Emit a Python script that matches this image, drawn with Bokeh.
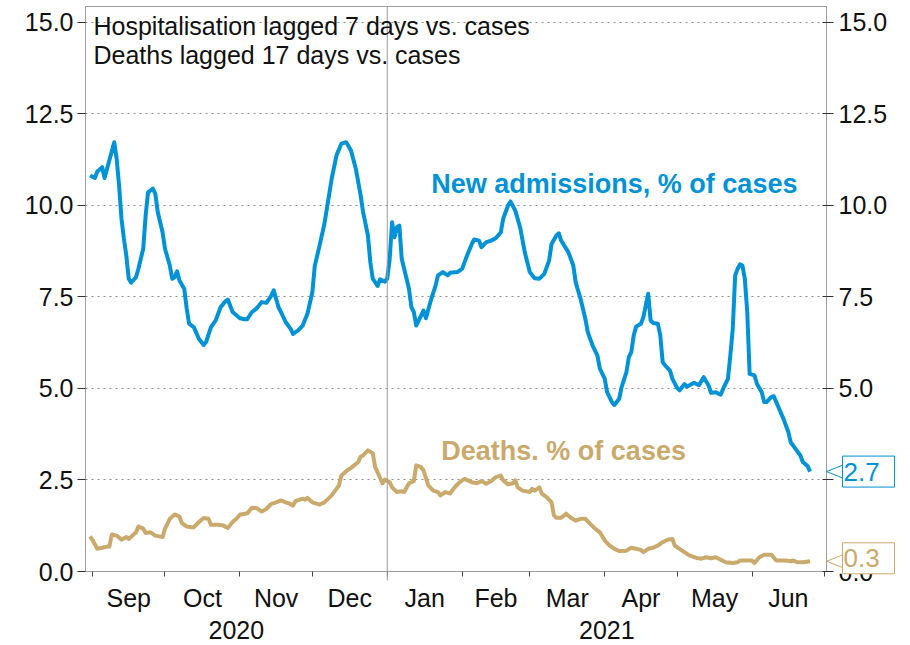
import numpy as np
import pandas as pd
from bokeh.plotting import figure
from bokeh.core.properties import value
from bokeh.models import (Range1d, LinearAxis, DatetimeAxis, FixedTicker, NumeralTickFormatter,
                          DatetimeTickFormatter, Span, Label)
from bokeh.embed import file_html
from bokeh.resources import INLINE

# ---------------- data ----------------
admissions = [
    ("2020-08-31", 10.82), ("2020-09-02", 10.75), ("2020-09-03", 10.93), ("2020-09-04", 10.98),
    ("2020-09-05", 11.05), ("2020-09-06", 10.75), ("2020-09-07", 11.00), ("2020-09-10", 11.73),
    ("2020-09-11", 11.28), ("2020-09-12", 10.55), ("2020-09-13", 9.64), ("2020-09-14", 9.09),
    ("2020-09-15", 8.63), ("2020-09-16", 8.00), ("2020-09-17", 7.89), ("2020-09-19", 8.04),
    ("2020-09-20", 8.27), ("2020-09-22", 8.82), ("2020-09-23", 9.73), ("2020-09-24", 10.36),
    ("2020-09-26", 10.46), ("2020-09-27", 10.32), ("2020-09-28", 9.82), ("2020-09-30", 9.27),
    ("2020-10-01", 8.82), ("2020-10-03", 8.36), ("2020-10-04", 8.00), ("2020-10-05", 8.04),
    ("2020-10-06", 8.20), ("2020-10-07", 7.95), ("2020-10-09", 7.72), ("2020-10-10", 7.18),
    ("2020-10-11", 6.77), ("2020-10-13", 6.67), ("2020-10-15", 6.36), ("2020-10-17", 6.19),
    ("2020-10-18", 6.27), ("2020-10-20", 6.67), ("2020-10-22", 6.86), ("2020-10-24", 7.22),
    ("2020-10-26", 7.38), ("2020-10-27", 7.43), ("2020-10-29", 7.09), ("2020-11-01", 6.92),
    ("2020-11-03", 6.89), ("2020-11-04", 6.89), ("2020-11-06", 7.09), ("2020-11-08", 7.19),
    ("2020-11-10", 7.36), ("2020-11-12", 7.34), ("2020-11-14", 7.54), ("2020-11-15", 7.68),
    ("2020-11-17", 7.22), ("2020-11-18", 7.09), ("2020-11-20", 6.81), ("2020-11-22", 6.63),
    ("2020-11-23", 6.49), ("2020-11-25", 6.58), ("2020-11-27", 6.72), ("2020-11-29", 7.05),
    ("2020-12-01", 7.63), ("2020-12-02", 8.35), ("2020-12-04", 8.91), ("2020-12-06", 9.50),
    ("2020-12-07", 9.91), ("2020-12-09", 10.73), ("2020-12-11", 11.37), ("2020-12-13", 11.69),
    ("2020-12-15", 11.73), ("2020-12-17", 11.50), ("2020-12-19", 11.00), ("2020-12-21", 10.27),
    ("2020-12-22", 9.82), ("2020-12-24", 9.18), ("2020-12-25", 8.45), ("2020-12-26", 8.00),
    ("2020-12-28", 7.80), ("2020-12-29", 7.98), ("2020-12-31", 7.92), ("2021-01-01", 8.00),
    ("2021-01-02", 8.54), ("2021-01-03", 9.54), ("2021-01-04", 9.13), ("2021-01-05", 9.41),
    ("2021-01-06", 9.45), ("2021-01-07", 8.54), ("2021-01-09", 8.00), ("2021-01-10", 7.72),
    ("2021-01-11", 7.22), ("2021-01-12", 7.09), ("2021-01-13", 6.72), ("2021-01-15", 6.99),
    ("2021-01-16", 7.13), ("2021-01-17", 6.92), ("2021-01-19", 7.40), ("2021-01-21", 7.81),
    ("2021-01-22", 8.09), ("2021-01-24", 8.18), ("2021-01-26", 8.09), ("2021-01-27", 8.16),
    ("2021-01-30", 8.18), ("2021-02-01", 8.27), ("2021-02-03", 8.63), ("2021-02-05", 8.95),
    ("2021-02-06", 9.07), ("2021-02-08", 9.04), ("2021-02-09", 8.86), ("2021-02-11", 9.00),
    ("2021-02-13", 9.04), ("2021-02-15", 9.11), ("2021-02-17", 9.27), ("2021-02-18", 9.64),
    ("2021-02-20", 10.00), ("2021-02-21", 10.11), ("2021-02-23", 9.86), ("2021-02-25", 9.40),
    ("2021-02-27", 8.70), ("2021-03-01", 8.18), ("2021-03-03", 8.01), ("2021-03-05", 8.00),
    ("2021-03-07", 8.13), ("2021-03-09", 8.50), ("2021-03-10", 8.95), ("2021-03-12", 9.18),
    ("2021-03-13", 9.24), ("2021-03-14", 9.04), ("2021-03-17", 8.72), ("2021-03-19", 8.36),
    ("2021-03-20", 7.90), ("2021-03-22", 7.45), ("2021-03-24", 6.90), ("2021-03-25", 6.54),
    ("2021-03-27", 6.17), ("2021-03-29", 5.90), ("2021-03-30", 5.54), ("2021-04-01", 5.27),
    ("2021-04-02", 4.90), ("2021-04-04", 4.63), ("2021-04-05", 4.55), ("2021-04-07", 4.72),
    ("2021-04-08", 5.04), ("2021-04-10", 5.45), ("2021-04-11", 5.86), ("2021-04-12", 5.99),
    ("2021-04-13", 6.45), ("2021-04-14", 6.69), ("2021-04-16", 6.77), ("2021-04-17", 6.95),
    ("2021-04-18", 7.27), ("2021-04-19", 7.59), ("2021-04-20", 6.86), ("2021-04-21", 6.79),
    ("2021-04-23", 6.77), ("2021-04-24", 6.45), ("2021-04-25", 5.72), ("2021-04-26", 5.63),
    ("2021-04-28", 5.49), ("2021-04-29", 5.27), ("2021-05-01", 5.01), ("2021-05-02", 4.95),
    ("2021-05-04", 5.12), ("2021-05-05", 5.05), ("2021-05-08", 5.16), ("2021-05-10", 5.09),
    ("2021-05-12", 5.31), ("2021-05-14", 5.08), ("2021-05-15", 4.88), ("2021-05-17", 4.90),
    ("2021-05-19", 4.83), ("2021-05-20", 4.99), ("2021-05-22", 5.26), ("2021-05-23", 5.90),
    ("2021-05-24", 6.63), ("2021-05-25", 8.09), ("2021-05-26", 8.27), ("2021-05-27", 8.39),
    ("2021-05-28", 8.36), ("2021-05-29", 8.00), ("2021-05-30", 7.09), ("2021-05-31", 5.40),
    ("2021-06-02", 5.36), ("2021-06-03", 5.13), ("2021-06-05", 4.90), ("2021-06-06", 4.63),
    ("2021-06-07", 4.63), ("2021-06-09", 4.77), ("2021-06-10", 4.79), ("2021-06-11", 4.63),
    ("2021-06-14", 4.17), ("2021-06-16", 3.81), ("2021-06-17", 3.53), ("2021-06-19", 3.35),
    ("2021-06-21", 3.17), ("2021-06-22", 2.99), ("2021-06-24", 2.88), ("2021-06-25", 2.73),
]

deaths = [
    ("2020-08-31", 0.96), ("2020-09-01", 0.86), ("2020-09-03", 0.62), ("2020-09-05", 0.65),
    ("2020-09-07", 0.68), ("2020-09-08", 0.68), ("2020-09-09", 1.01), ("2020-09-11", 0.98),
    ("2020-09-13", 0.87), ("2020-09-15", 0.94), ("2020-09-16", 0.89), ("2020-09-19", 1.07),
    ("2020-09-20", 1.23), ("2020-09-22", 1.17), ("2020-09-23", 1.05), ("2020-09-25", 1.07),
    ("2020-09-27", 0.98), ("2020-09-30", 0.94), ("2020-10-01", 1.17), ("2020-10-03", 1.44),
    ("2020-10-05", 1.56), ("2020-10-07", 1.50), ("2020-10-08", 1.32), ("2020-10-10", 1.23),
    ("2020-10-12", 1.21), ("2020-10-13", 1.21), ("2020-10-15", 1.35), ("2020-10-17", 1.46),
    ("2020-10-19", 1.44), ("2020-10-20", 1.28), ("2020-10-23", 1.28), ("2020-10-25", 1.26),
    ("2020-10-27", 1.19), ("2020-10-29", 1.35), ("2020-10-31", 1.47), ("2020-11-01", 1.55),
    ("2020-11-04", 1.59), ("2020-11-06", 1.74), ("2020-11-08", 1.73), ("2020-11-10", 1.64),
    ("2020-11-12", 1.71), ("2020-11-14", 1.85), ("2020-11-16", 1.89), ("2020-11-18", 1.94),
    ("2020-11-20", 1.89), ("2020-11-21", 1.87), ("2020-11-23", 1.80), ("2020-11-24", 1.92),
    ("2020-11-27", 1.99), ("2020-11-28", 1.96), ("2020-11-29", 2.01), ("2020-12-01", 1.89),
    ("2020-12-03", 1.85), ("2020-12-04", 1.83), ("2020-12-06", 1.89), ("2020-12-09", 2.08),
    ("2020-12-10", 2.17), ("2020-12-12", 2.35), ("2020-12-13", 2.62), ("2020-12-15", 2.74),
    ("2020-12-17", 2.83), ("2020-12-20", 2.99), ("2020-12-21", 3.14), ("2020-12-22", 3.17),
    ("2020-12-24", 3.31), ("2020-12-26", 3.23), ("2020-12-27", 2.85), ("2020-12-28", 2.71),
    ("2020-12-30", 2.41), ("2020-12-31", 2.51), ("2021-01-02", 2.44), ("2021-01-03", 2.30),
    ("2021-01-05", 2.17), ("2021-01-07", 2.19), ("2021-01-08", 2.17), ("2021-01-10", 2.41),
    ("2021-01-12", 2.47), ("2021-01-13", 2.90), ("2021-01-15", 2.85), ("2021-01-16", 2.76),
    ("2021-01-18", 2.35), ("2021-01-20", 2.21), ("2021-01-22", 2.17), ("2021-01-23", 2.08),
    ("2021-01-25", 2.17), ("2021-01-27", 2.13), ("2021-01-29", 2.31), ("2021-01-31", 2.44),
    ("2021-02-02", 2.53), ("2021-02-05", 2.44), ("2021-02-07", 2.41), ("2021-02-09", 2.47),
    ("2021-02-11", 2.40), ("2021-02-13", 2.47), ("2021-02-15", 2.58), ("2021-02-17", 2.62),
    ("2021-02-18", 2.49), ("2021-02-20", 2.38), ("2021-02-22", 2.41), ("2021-02-23", 2.49),
    ("2021-02-24", 2.30), ("2021-02-26", 2.21), ("2021-03-01", 2.17), ("2021-03-02", 2.26),
    ("2021-03-03", 2.21), ("2021-03-05", 2.30), ("2021-03-06", 2.12), ("2021-03-08", 2.03),
    ("2021-03-10", 1.89), ("2021-03-11", 1.53), ("2021-03-12", 1.47), ("2021-03-14", 1.47),
    ("2021-03-16", 1.58), ("2021-03-18", 1.47), ("2021-03-20", 1.39), ("2021-03-22", 1.44),
    ("2021-03-24", 1.44), ("2021-03-26", 1.30), ("2021-03-28", 1.17), ("2021-03-30", 1.07),
    ("2021-04-01", 0.85), ("2021-04-03", 0.71), ("2021-04-05", 0.62), ("2021-04-07", 0.56),
    ("2021-04-10", 0.57), ("2021-04-12", 0.65), ("2021-04-14", 0.62), ("2021-04-16", 0.59),
    ("2021-04-17", 0.53), ("2021-04-19", 0.62), ("2021-04-21", 0.65), ("2021-04-23", 0.71),
    ("2021-04-25", 0.80), ("2021-04-27", 0.87), ("2021-04-29", 0.89), ("2021-04-30", 0.71),
    ("2021-05-02", 0.62), ("2021-05-04", 0.53), ("2021-05-06", 0.44), ("2021-05-09", 0.37),
    ("2021-05-11", 0.35), ("2021-05-13", 0.39), ("2021-05-15", 0.36), ("2021-05-17", 0.39),
    ("2021-05-19", 0.32), ("2021-05-21", 0.25), ("2021-05-24", 0.23), ("2021-05-26", 0.25),
    ("2021-05-27", 0.30), ("2021-05-30", 0.30), ("2021-06-01", 0.30), ("2021-06-02", 0.23),
    ("2021-06-04", 0.39), ("2021-06-06", 0.46), ("2021-06-08", 0.46), ("2021-06-09", 0.46),
    ("2021-06-11", 0.30), ("2021-06-13", 0.30), ("2021-06-15", 0.30), ("2021-06-17", 0.28),
    ("2021-06-18", 0.30), ("2021-06-20", 0.25), ("2021-06-22", 0.25), ("2021-06-25", 0.28),
]

month_starts = ["2020-09-01", "2020-10-01", "2020-11-01", "2020-12-01", "2021-01-01",
                "2021-02-01", "2021-03-01", "2021-04-01", "2021-05-01", "2021-06-01", "2021-07-01"]
year_break = "2021-01-01"
y_ticks = [0, 2.5, 5, 7.5, 10, 12.5, 15]

note_lines = ["Hospitalisation lagged 7 days vs. cases", "Deaths lagged 17 days vs. cases"]
adm_label = "New admissions, % of cases"
death_label = "Deaths. % of cases"

# ---------------- helpers ----------------
def to_ms(dates):
    return pd.to_datetime(list(dates)).values.astype("datetime64[ms]").astype("int64").astype(float)

BLUE = "#0092D6"
TAN = "#C9AA6C"
GREY = "#9C9C9C"
FONT = "Liberation Sans"

adm_x = to_ms([d for d, _ in admissions]); adm_y = [v for _, v in admissions]
dth_x = to_ms([d for d, _ in deaths]); dth_y = [v for _, v in deaths]
ms_month = to_ms(month_starts)
mid_month = (ms_month[:-1] + ms_month[1:]) / 2

x0 = to_ms(["2020-08-29 02:30"])[0]
x1 = to_ms(["2021-07-01 19:20"])[0]
y_end = 15.437
jan1 = to_ms([year_break])[0]
year_ticks = [(x0 + jan1) / 2, (jan1 + x1) / 2]

W, H = 905, 644
BL, BR, BT, BB = 85, 79, 6, 73
frame_w = W - BL - BR
frame_h = H - BT - BB

p = figure(width=W, height=H, x_axis_type="datetime",
           x_range=Range1d(x0, x1), y_range=Range1d(0, y_end),
           output_backend="svg", toolbar_location=None,
           min_border_left=BL, min_border_right=BR, min_border_top=BT, min_border_bottom=BB,
           background_fill_color="white", border_fill_color="white")
p.outline_line_color = GREY
p.outline_line_width = 1

# grid
p.xgrid.visible = False
p.ygrid.ticker = FixedTicker(ticks=y_ticks)
p.ygrid.grid_line_color = "#8C8C8C"
p.ygrid.grid_line_dash = "2 4"
p.ygrid.grid_line_width = 1

# year divider
p.add_layout(Span(location=jan1, dimension="height", line_color=GREY, line_width=1))

# series
p.line(adm_x, adm_y, line_color=BLUE, line_width=4, line_join="round")
p.line(dth_x, dth_y, line_color=TAN, line_width=4, line_join="round")

# x axis: months
fmt_b = DatetimeTickFormatter(microseconds="%b", milliseconds="%b", seconds="%b", minsec="%b",
                              minutes="%b", hourmin="%b", hours="%b", days="%b", months="%b", years="%b")
xa = p.xaxis[0]
xa.ticker = FixedTicker(ticks=list(mid_month), minor_ticks=list(ms_month))
xa.formatter = fmt_b
xa.axis_line_color = GREY
xa.major_tick_out = 0
xa.major_tick_in = 0
xa.major_tick_line_color = None
xa.minor_tick_out = 5
xa.minor_tick_in = 0
xa.minor_tick_line_color = "#444444"
xa.major_label_text_font = FONT
xa.major_label_text_font_size = "25px"
xa.major_label_text_color = "#111111"
xa.major_label_standoff = 7

# x axis: years
fmt_y = DatetimeTickFormatter(microseconds="%Y", milliseconds="%Y", seconds="%Y", minsec="%Y",
                              minutes="%Y", hourmin="%Y", hours="%Y", days="%Y", months="%Y", years="%Y")
ya_year = DatetimeAxis(ticker=FixedTicker(ticks=year_ticks, minor_ticks=[]), formatter=fmt_y,
                       axis_line_color=None, major_tick_line_color=None, minor_tick_line_color=None,
                       major_tick_out=0, major_tick_in=0, major_label_standoff=6,
                       major_label_text_font=FONT, major_label_text_font_size="25px",
                       major_label_text_color="#111111")
p.add_layout(ya_year, "below")

# y axes
def style_y(ax, tin, tout, standoff):
    ax.ticker = FixedTicker(ticks=y_ticks, minor_ticks=[])
    ax.formatter = NumeralTickFormatter(format="0.0")
    ax.axis_line_color = GREY
    ax.major_tick_line_color = "#333333"
    ax.major_tick_in = tin
    ax.major_tick_out = tout
    ax.minor_tick_line_color = None
    ax.major_label_text_font = FONT
    ax.major_label_text_font_size = "25px"
    ax.major_label_text_color = "#111111"
    ax.major_label_standoff = standoff

style_y(p.yaxis[0], 0, 8, 4)
ra = LinearAxis()
style_y(ra, 4, 7, 5)
p.add_layout(ra, "right")

# note text
for txt, off in zip(note_lines, [-19, -48]):
    p.add_layout(Label(x=x0, y=y_end, x_offset=8, y_offset=off, text=txt,
                       text_font=FONT, text_font_size="25px", text_color="#111111",
                       text_baseline="alphabetic", text_align="left"))

# series labels
p.add_layout(Label(x=to_ms(["2021-04-05"])[0], y=10.60, text=adm_label, text_align="center",
                   text_baseline="alphabetic", text_font=FONT, text_font_size="27px",
                   text_font_style="bold", text_color=BLUE))
p.add_layout(Label(x=to_ms(["2021-03-15"])[0], y=3.28, text=death_label, text_align="center",
                   text_baseline="alphabetic", text_font=FONT, text_font_size="27px",
                   text_font_style="bold", text_color=TAN))

# longer tick at the year boundary (drawn outside the frame clip)
px_x = frame_w / (x1 - x0)
px_y = frame_h / y_end
p.segment(x0=[jan1], y0=[0], x1=[jan1], y1=[-9 / px_y], line_color=GREY, line_width=1, level="overlay")

# end-value callouts (overlay level so they can sit over the right axis)
for last, col in [(adm_y[-1], BLUE), (dth_y[-1], TAN)]:
    clamped = last - 15.5 / px_y < -2.3 / px_y
    bot = max(last - 15.5 / px_y, -2.3 / px_y)
    top = bot + 31 / px_y
    mid = (bot + top) / 2
    # white backing behind the callout (hides the axis label it sits on)
    back_bot = bot if clamped else bot - 4 / px_y
    p.quad(left=[x1 + 8 / px_x], right=[x1 + 68 / px_x], bottom=[back_bot], top=[top],
           fill_color="white", line_color=None, level="overlay")
    p.line([x1 + 16 / px_x, x1, x1 + 16 / px_x],
           [last + 6.3 / px_y, last, last - 6.3 / px_y],
           line_color=col, line_width=1, level="overlay")
    p.quad(left=[x1 + 16 / px_x], right=[x1 + 68 / px_x], bottom=[bot], top=[top],
           fill_color="white", line_color=col, line_width=1, level="overlay")
    p.text(x=[x1], y=[mid], text=[f"{last:.1f}"], x_offset=17, text_align="left",
           text_baseline="middle", text_font=value(FONT), text_font_size="26px",
           text_color=col, level="overlay")

open("out.html", "w").write(file_html(p, INLINE))
